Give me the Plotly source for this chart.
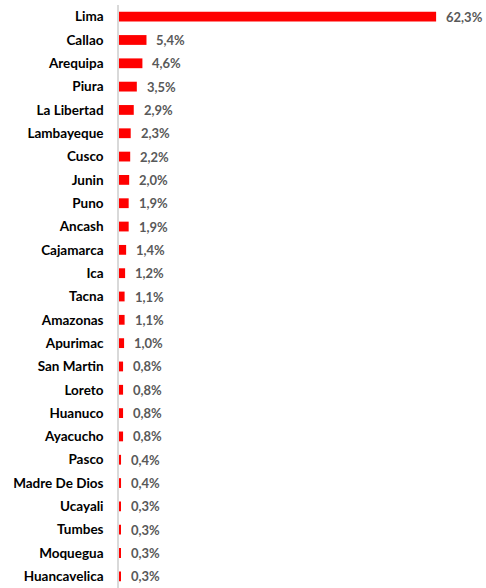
import plotly.graph_objects as go

regions = ["Lima", "Callao", "Arequipa", "Piura", "La Libertad", "Lambayeque", "Cusco",
           "Junin", "Puno", "Ancash", "Cajamarca", "Ica", "Tacna", "Amazonas", "Apurimac",
           "San Martin", "Loreto", "Huanuco", "Ayacucho", "Pasco", "Madre De Dios",
           "Ucayali", "Tumbes", "Moquegua", "Huancavelica"]
shares = [62.3, 5.4, 4.6, 3.5, 2.9, 2.3, 2.2, 2.0, 1.9, 1.9, 1.4, 1.2, 1.1, 1.1, 1.0,
          0.8, 0.8, 0.8, 0.8, 0.4, 0.4, 0.3, 0.3, 0.3, 0.3]

FONT = "Lato, Open Sans, sans-serif"

fig = go.Figure(go.Bar(
    x=shares, y=regions, orientation="h",
    marker=dict(color="#ff0000", line=dict(width=0)),
    width=0.42,
    cliponaxis=False,
    hoverinfo="x+y",
))

for v, r in zip(shares, regions):
    fig.add_annotation(
        x=v, y=r, text=f"{v:.1f}%".replace(".", ","), showarrow=False,
        xanchor="left", yanchor="middle", xshift=8,
        font=dict(family=FONT, size=13, color="#595959", weight="bold"),
    )

fig.update_layout(
    width=486, height=588,
    margin=dict(l=119, r=0, t=5, b=0),
    plot_bgcolor="white", paper_bgcolor="white",
    showlegend=False,
    separators=",.",
    xaxis=dict(range=[0, 72.1], showgrid=False, showticklabels=False, zeroline=False,
               showline=False, ticks=""),
    yaxis=dict(categoryorder="array", categoryarray=regions[::-1], autorange=False,
               range=[-0.5, 24.5],
               showgrid=False, showline=True, linecolor="#d9d9d9", linewidth=1.5,
               ticks="", ticklabelstandoff=11,
               tickfont=dict(family=FONT, size=13.5, color="#000000", weight="bold")),
)

fig.write_html("out.html")
